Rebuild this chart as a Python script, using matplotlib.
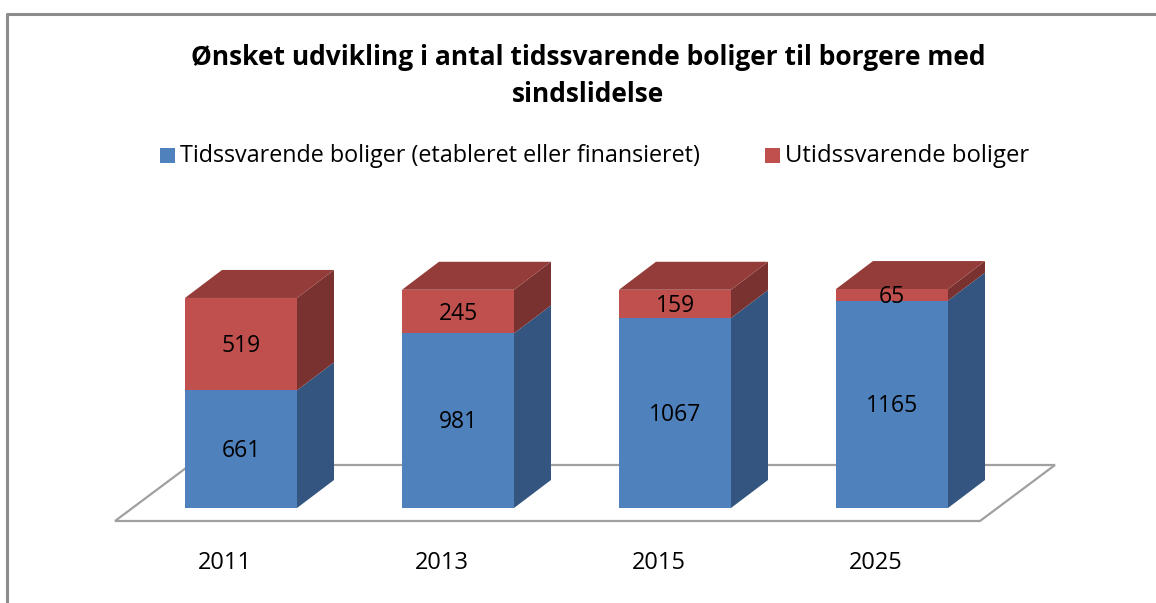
import matplotlib
matplotlib.use("Agg")
import matplotlib.pyplot as plt
from matplotlib.patches import Polygon, Rectangle
import numpy as np

# data
years = ["2011", "2013", "2015", "2025"]
tidssvarende = [661, 981, 1067, 1165]
utidssvarende = [519, 245, 159, 65]

title = "Ønsket udvikling i antal tidssvarende boliger til borgere med\nsindslidelse"
legend_labels = ["Tidssvarende boliger (etableret eller finansieret)", "Utidssvarende boliger"]

# colours
blue_front, blue_side = "#4F81BD", "#34557F"
red_front, red_side, red_top = "#C0504D", "#79322F", "#943C39"

W, H = 1156, 603
fig = plt.figure(figsize=(W / 100, H / 100), dpi=100)
ax = fig.add_axes([0, 0, 1, 1])

# pixel layout -> data scales
px_per_cat = 217.0
x0_px = 241.0
px_per_unit = 0.178
base_px = 508.0
ax.set_xlim(-x0_px / px_per_cat, (W - x0_px) / px_per_cat)
ax.set_ylim(-(H - base_px) / px_per_unit, base_px / px_per_unit)
ax.axis("off")

bw = 112 / px_per_cat
dx = 37 / px_per_cat
dy = 28 / px_per_unit

# floor
fx0, fx1 = (115 - x0_px) / px_per_cat, (980 - x0_px) / px_per_cat
fy = (base_px - 521) / px_per_unit
fdx, fdy = 75 / px_per_cat, 56 / px_per_unit
ax.add_patch(Polygon([(fx0, fy), (fx1, fy), (fx1 + fdx, fy + fdy), (fx0 + fdx, fy + fdy)],
                     closed=True, facecolor="white", edgecolor="#A0A0A0", lw=1.6, zorder=1))

x = np.arange(len(years))
ax.bar(x, tidssvarende, width=bw, color=blue_front, zorder=3)
ax.bar(x, utidssvarende, width=bw, bottom=tidssvarende, color=red_front, zorder=3)

for i in range(len(years)):
    r = x[i] + bw / 2
    l = x[i] - bw / 2
    b1 = tidssvarende[i]
    t = b1 + utidssvarende[i]
    ax.add_patch(Polygon([(r, 0), (r + dx, dy), (r + dx, b1 + dy), (r, b1)],
                         closed=True, facecolor=blue_side, edgecolor="none", zorder=2))
    ax.add_patch(Polygon([(r, b1), (r + dx, b1 + dy), (r + dx, t + dy), (r, t)],
                         closed=True, facecolor=red_side, edgecolor="none", zorder=2))
    ax.add_patch(Polygon([(l, t), (l + dx, t + dy), (r + dx, t + dy), (r, t)],
                         closed=True, facecolor=red_top, edgecolor="none", zorder=2))
    ax.text(x[i], b1 / 2 - 10, str(tidssvarende[i]), ha="center", va="center",
            fontsize=16.5, family="Open Sans", color="black", zorder=5)
    ax.text(x[i], b1 + utidssvarende[i] / 2 - 12, str(utidssvarende[i]), ha="center", va="center",
            fontsize=16.5, family="Open Sans", color="black", zorder=5)
    ax.text(x[i] - 16 / px_per_cat, (base_px - 563) / px_per_unit, years[i], ha="center", va="center",
            fontsize=17, family="Open Sans", color="black")

# title
fig.text(588 / W, 1 - 76 / H, title, ha="center", va="center", fontsize=19,
         family="Open Sans", weight="bold", linespacing=1.45)

# legend
legend_items = [(160, legend_labels[0], blue_front, 16.8), (765, legend_labels[1], red_front, 17.2)]
for lx, lab, col, fs in legend_items:
    fig.patches.append(Rectangle((lx / W, 1 - 163 / H), 15 / W, 15 / H,
                                 transform=fig.transFigure, facecolor=col, edgecolor="none"))
    fig.text((lx + 20) / W, 1 - 156 / H, lab, ha="left", va="center", fontsize=fs, family="Open Sans")

# chart border
fig.lines.append(plt.Line2D([7 / W, 7 / W, 1], [0, 1 - 13.5 / H, 1 - 13.5 / H],
                            transform=fig.transFigure, color="#8C8C8C", lw=2.2))

fig.savefig("out.png", dpi=100)
